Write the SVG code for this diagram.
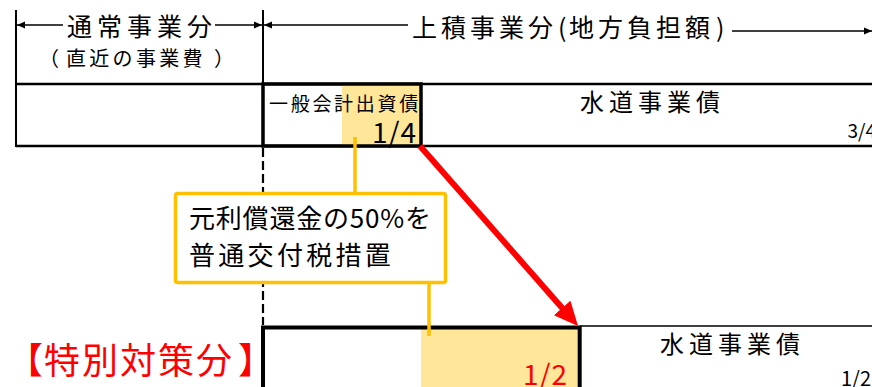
<svg xmlns="http://www.w3.org/2000/svg" width="872" height="387" viewBox="0 0 872 387">
<style>
.t{font-family:"Noto Sans CJK JP","Noto Sans",sans-serif;fill:#000}
.ln{stroke:#000;fill:none}
.hl{fill:#FFE699}
.yl{stroke:#FFC000;stroke-width:3.5;fill:none}
.box{stroke:#FFC000;stroke-width:3.5;fill:#fff}
.rt{fill:#FF0000}
</style>
<defs>
<marker id="ah" markerUnits="userSpaceOnUse" markerWidth="9" markerHeight="8" refX="8" refY="4" orient="auto">
<path d="M0,0.5 L8,4 L0,7.5 z" fill="#000"/>
</marker>
<marker id="rh" markerUnits="userSpaceOnUse" markerWidth="26" markerHeight="24" refX="9" refY="11" orient="auto">
<path d="M0,0 L24,11 L0,22 z" fill="#FF0000"/>
</marker>
</defs>
<rect width="872" height="387" fill="#fff"/>

<g id="header">
<line class="ln" x1="16" y1="10" x2="16" y2="147" stroke-width="2"/>
<line class="ln" x1="263" y1="10" x2="263" y2="84" stroke-width="2"/>
<line class="ln" x1="63" y1="25" x2="17" y2="25" stroke-width="1.5" marker-end="url(#ah)"/>
<line class="ln" x1="215" y1="25" x2="262" y2="25" stroke-width="1.5" marker-end="url(#ah)"/>
<line class="ln" x1="408" y1="25" x2="264" y2="25" stroke-width="1.5" marker-end="url(#ah)"/>
<line class="ln" x1="732" y1="31" x2="872" y2="31" stroke-width="1.5" marker-end="url(#ah)"/>
<text class="t" x="67" y="36" font-size="25" letter-spacing="5">通常事業分</text>
<text class="t" font-size="20" y="66" x="39 66 89.3 112.6 136 159.3 182.6 214">（直近の事業費）</text>
<text class="t" font-size="25" y="37" x="412 441 470 499 528 558 569 598 627 656 685 716">上積事業分(地方負担額)</text>
</g>

<g id="upper-row">
<line class="ln" x1="16" y1="84" x2="872" y2="84" stroke-width="2.5"/>
<line class="ln" x1="16" y1="146" x2="872" y2="146" stroke-width="2.5"/>
<text class="t" x="580" y="111" font-size="24" letter-spacing="5">水道事業債</text>
<text class="t" x="876" y="138" font-size="19" text-anchor="end">3/4</text>
</g>

<g id="general-account">
<rect class="hl" x="342" y="84" width="79" height="62"/>
<text class="t" x="269" y="111" font-size="19" letter-spacing="2.7">一般会計出資債</text>
<text class="t" x="417" y="143" font-size="28" text-anchor="end" letter-spacing="1">1/4</text>
<rect class="ln" x="263" y="84" width="158" height="62" stroke-width="3.5"/>
</g>

<g id="lower-row">
<rect class="hl" x="421" y="327" width="159" height="62"/>
<line class="ln" x1="580" y1="326" x2="872" y2="326" stroke-width="1.5"/>
<text class="t rt" x="568" y="385" font-size="28" text-anchor="end" letter-spacing="1">1/2</text>
<text class="t" x="660" y="353" font-size="24" letter-spacing="5">水道事業債</text>
<text class="t" x="871" y="386" font-size="20" text-anchor="end">1/2</text>
<path class="ln" d="M263,392 V327.5 H579.7 V392" stroke-width="4"/>
</g>

<g id="connectors">
<line class="ln" x1="263" y1="148" x2="263" y2="325" stroke-width="2.2" stroke-dasharray="9,4"/>
<line class="yl" x1="355" y1="137" x2="355" y2="193"/>
<line class="yl" x1="429" y1="284" x2="429" y2="336"/>
<line x1="420" y1="146" x2="568.1" y2="314.7" stroke="#FF0000" stroke-width="6" marker-end="url(#rh)"/>
</g>

<g id="callout">
<rect class="box" x="175.5" y="193.5" width="270" height="89" rx="2"/>
<text class="t" x="189" y="228" font-size="26" letter-spacing="0.8">元利償還金の50%を</text>
<text class="t" x="189" y="265" font-size="26" letter-spacing="3.3">普通交付税措置</text>
</g>

<g id="special">
<text class="t rt" font-size="36" y="374" x="7 44 82 120 158 196 238">【特別対策分】</text>
</g>
</svg>
